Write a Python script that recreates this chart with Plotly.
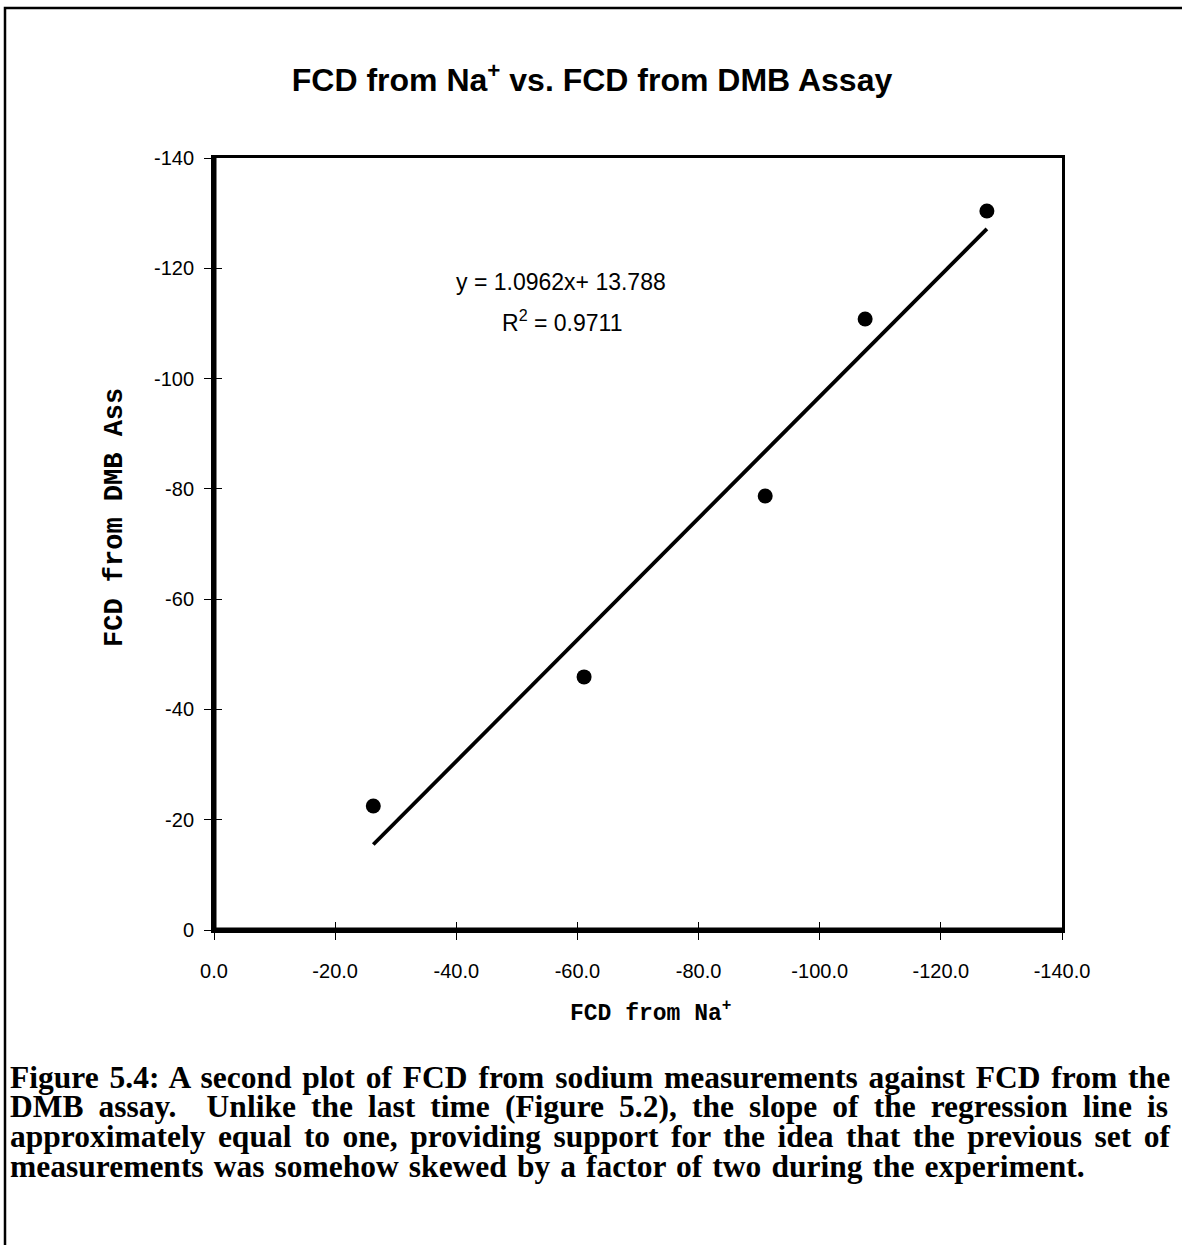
import numpy as np
import plotly.graph_objects as go

# ---- data ----
fcd_na = [-26.3, -61.1, -91.0, -107.5, -127.6]
fcd_dmb = [-22.5, -45.9, -78.7, -110.8, -130.4]

x_tick_vals = [0, -20, -40, -60, -80, -100, -120, -140]
x_tick_text = ["0.0", "-20.0", "-40.0", "-60.0", "-80.0", "-100.0", "-120.0", "-140.0"]
y_tick_vals = [0, -20, -40, -60, -80, -100, -120, -140]
y_tick_text = ["0", "-20", "-40", "-60", "-80", "-100", "-120", "-140"]

equation_text = "y = 1.0962x+ 13.788"
r2_text = "R<sup>2</sup> = 0.9711"

caption_lines = [
    "Figure 5.4: A second plot of FCD from sodium measurements against FCD from the",
    "DMB assay.  Unlike the last time (Figure 5.2), the slope of the regression line is",
    "approximately equal to one, providing support for the idea that the previous set of",
    "measurements was somehow skewed by a factor of two during the experiment.",
]
caption_word_spacing = [3, 7.2, 4.6, 2.2]

W, H = 1182, 1245
PX0, PX1 = 214, 1062
PY0, PY1 = 158, 930


def px(x):
    return x / W


def py(y):
    return 1 - y / H


# regression line computed from the data
slope, intercept = np.polyfit(fcd_na, fcd_dmb, 1)
x_fit = np.array([min(fcd_na), max(fcd_na)])
y_fit = slope * x_fit + intercept

fig = go.Figure()
fig.add_trace(go.Scatter(
    x=x_fit, y=y_fit, mode="lines",
    line=dict(color="black", width=3.8), showlegend=False, hoverinfo="skip"))
fig.add_trace(go.Scatter(
    x=fcd_na, y=fcd_dmb, mode="markers",
    marker=dict(color="black", size=15), showlegend=False))

tick_font = dict(family="Liberation Sans, Arial", size=20, color="black")
xdom = [px(PX0), px(PX1)]
ydom = [py(PY1), py(PY0)]

common = dict(showgrid=False, zeroline=False, automargin=False)

fig.update_layout(
    width=W, height=H,
    margin=dict(l=0, r=0, t=0, b=0),
    paper_bgcolor="white", plot_bgcolor="white",
    title=dict(
        text="FCD from Na<sup>+</sup> vs. FCD from DMB Assay",
        font=dict(family="Liberation Sans, Arial", size=32, color="black", weight="bold"),
        x=px(592), xanchor="center", xref="paper",
        y=py(80), yanchor="middle", yref="container"),
    xaxis=dict(
        domain=xdom, range=[0, -140], tickvals=x_tick_vals, ticktext=x_tick_text,
        showline=True, mirror=True, linecolor="black", linewidth=3,
        ticks="outside", ticklen=7, tickwidth=1.3, tickcolor="black",
        tickfont=tick_font, ticklabelstandoff=14, **common),
    yaxis=dict(
        domain=ydom, range=[0, -140], tickvals=y_tick_vals, ticktext=y_tick_text,
        showline=True, mirror=True, linecolor="black", linewidth=3,
        ticks="outside", ticklen=7, tickwidth=1.3, tickcolor="black",
        tickfont=tick_font, ticklabelstandoff=6, **common),
    # overlay axes giving the inner half of the crossing tick marks
    xaxis2=dict(
        domain=xdom, range=[0, -140], tickvals=x_tick_vals, overlaying="x",
        anchor="y", side="bottom", showline=False, showticklabels=False,
        ticks="inside", ticklen=8, tickwidth=1.3, tickcolor="black", **common),
    yaxis2=dict(
        domain=ydom, range=[0, -140], tickvals=y_tick_vals, overlaying="y",
        anchor="x", side="left", showline=False, showticklabels=False,
        ticks="inside", ticklen=8, tickwidth=1.3, tickcolor="black", **common),
)
# invisible trace to activate the overlay axes
fig.add_trace(go.Scatter(x=[None], y=[None], xaxis="x2", yaxis="y2",
                         showlegend=False, hoverinfo="skip"))

# heavier left and bottom frame lines
fig.add_shape(type="line", xref="x domain", yref="y domain", x0=0, x1=0, y0=0, y1=1,
              line=dict(color="black", width=5))
fig.add_shape(type="line", xref="x domain", yref="y domain", x0=0, x1=1, y0=0, y1=0,
              line=dict(color="black", width=5))

# axis titles
fig.add_annotation(x=px(651), y=py(1012), xref="paper", yref="paper",
                   xanchor="center", yanchor="middle",
                   text="<b>FCD from Na<sup>+</sup></b>", showarrow=False,
                   font=dict(family="Liberation Mono, Courier New", size=23, color="black"))
fig.add_annotation(x=px(115), y=py(518), xref="paper", yref="paper",
                   xanchor="center", yanchor="middle",
                   text="<b>FCD from DMB Ass</b>", showarrow=False, textangle=-90,
                   font=dict(family="Liberation Mono, Courier New", size=27, color="black"))

# regression annotations
fig.add_annotation(x=px(561), y=py(282), xref="paper", yref="paper",
                   xanchor="center", yanchor="middle",
                   text=equation_text, showarrow=False,
                   font=dict(family="Liberation Sans, Arial", size=23, color="black"))
fig.add_annotation(x=px(562), y=py(321), xref="paper", yref="paper",
                   xanchor="center", yanchor="middle",
                   text=r2_text, showarrow=False,
                   font=dict(family="Liberation Sans, Arial", size=23, color="black"))

# caption
for i, line in enumerate(caption_lines):
    fig.add_annotation(x=px(8), y=py(1077 + i * 29.7), xref="paper", yref="paper",
                       text='<span style="word-spacing:%gpx"><b>%s</b></span>'
                            % (caption_word_spacing[i], line),
                       showarrow=False, xanchor="left", yanchor="middle",
                       font=dict(family="Liberation Serif, Times New Roman", size=31.5,
                                 color="black"))

# outer frame of the page
fig.add_shape(type="rect", xref="paper", yref="paper",
              x0=px(5), x1=px(1195), y0=py(1260), y1=py(8),
              line=dict(color="black", width=2.5), layer="below")

fig.write_html("out.html",
               config={"displayModeBar": False},
               post_script="document.body.style.margin='0';"
                           "document.body.style.overflow='hidden';")
